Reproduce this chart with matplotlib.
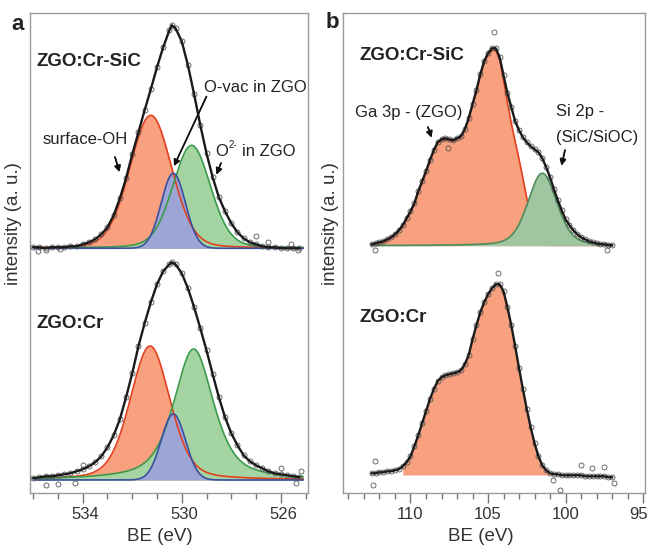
import numpy as np
import matplotlib.pyplot as plt
from matplotlib.transforms import ScaledTranslation

plt.rcParams['font.family'] = ['Liberation Sans', 'DejaVu Sans']

# binding energies of the sampled points (eV)
be_a = np.r_[np.arange(536.0, 530.4, -0.25), 530.4, np.arange(530.25, 525.0, -0.25)]
be_b = np.arange(112.5, 96.9, -0.25)

# --- panel a : O 1s (offset spectra, arbitrary units) ---
o1s_sic = [246, 246, 245, 246, 246, 246, 247, 247, 249, 251,
           254, 259, 266, 278, 295, 315, 339, 361, 383, 404,
           426, 446, 463, 468, 465, 452, 428, 399, 368, 340,
           316, 296, 282, 270, 261, 255, 251, 249, 247, 246,
           246, 245, 245, 245, 245]
o1s_cr = [15, 16, 17, 17, 18, 19, 20, 22, 24, 27,
          31, 37, 46, 58, 74, 96, 120, 147, 170, 191,
          209, 222, 229, 231, 229, 220, 205, 186, 165, 143,
          119, 96, 76, 60, 48, 38, 32, 28, 25, 22,
          20, 19, 18, 17, 16]
base_a = [245, 13.3]

# fit components: centre (eV), height, FWHM (eV), lorentzian fraction
oh_peak = [(531.25, 133, 2.0, 0.15), (531.28, 134, 1.9, 0.3)]
ovac_peak = [(530.34, 75, 1.15, 0.0), (530.34, 66, 1.15, 0.0)]
o2_peak = [(529.60, 103, 1.8, 0.2), (529.52, 131, 1.9, 0.6)]

# stray measured points away from the curve
stray_a_sic = ([535.8, 535.5, 534.9, 527.0, 526.5, 525.6, 525.3],
               [242, 243, 244, 257, 251, 249, 243])
stray_a_cr = ([535.5, 535.0, 534.3, 534.0, 526.0, 525.4, 525.2],
              [8, 9, 10, 28, 25, 10, 22])

# --- panel b : Ga 3p / Si 2p ---
ga_sic = [249, 250, 251, 252, 254, 256, 259, 263, 268, 275,
          282, 290, 302, 312, 322, 333, 343, 351, 354, 355,
          354, 353, 355, 357, 364, 375, 389, 403, 419, 432,
          440, 445, 445, 436, 418, 400, 386, 372, 363, 356,
          351, 347, 344, 341, 335, 326, 316, 304, 293, 283,
          274, 268, 263, 259, 256, 254, 252, 251, 250, 249,
          249, 248, 248]
ga3p_sic = [248, 249, 250, 251, 253, 255, 258, 262, 267, 274,
            281, 289, 301, 311, 321, 332, 342, 350, 353, 354,
            353, 352, 354, 356, 363, 374, 388, 402, 418, 431,
            439, 443, 443, 434, 413, 391, 370, 352, 334, 315,
            295, 277, 263, 254, 250, 248, 248, 248, 248, 248,
            248, 248, 248, 248, 248, 248, 248, 248, 248, 248,
            248, 248, 248]
ga_cr = [20, 20, 21, 21, 22, 22, 23, 24, 27, 31,
         37, 47, 58, 70, 82, 94, 104, 112, 116, 118,
         119, 120, 121, 123, 129, 138, 154, 168, 181, 191,
         199, 205, 209, 209, 202, 186, 168, 147, 125, 104,
         84, 66, 50, 37, 28, 23, 20, 19, 19, 18,
         18, 18, 18, 18, 18, 17, 17, 17, 17, 17,
         17, 16, 16]
base_b = [247.6, 18.3]
si2p_peak = (101.5, 72.5, 2.2, 0.3)

stray_b_sic = ([104.6, 107.6, 112.3, 97.3], [461, 345, 243, 243])
stray_b_cr = ([112.4, 112.3, 100.35, 100.8, 99.0, 98.3, 97.5, 96.9, 104.35],
              [8, 32, 3, 13, 28, 25, 26, 10, 220])

ORANGE, RED = '#f9a07f', '#e2401f'
GREEN, DKGREEN = '#a3d4a1', '#3c9a4c'
BLUE, DKBLUE = '#9da5d6', '#3a4f9e'
GREEN_B, DKGREEN_B = '#9fc6a0', '#4a8c5a'


def pvoigt(x, c, h, w, m):
    g = np.exp(-4 * np.log(2) * (x - c) ** 2 / w ** 2)
    lor = 1 / (1 + 4 * (x - c) ** 2 / w ** 2)
    return h * ((1 - m) * g + m * lor)


def style(ax, xlim, major, minor):
    ax.set_xlim(*xlim)
    ax.set_ylim(0, 480)
    ax.set_xticks(major)
    ax.set_xticks(minor, minor=True)
    ax.set_yticks([])
    for sp in ax.spines.values():
        sp.set_color('#9a9a9a')
        sp.set_linewidth(1.0)
    ax.tick_params(axis='x', which='major', direction='out', length=7, width=1,
                   color='#777777', labelsize=12, labelcolor='#333333', pad=3)
    ax.tick_params(axis='x', which='minor', direction='out', length=4, width=1,
                   color='#777777')


def dots(ax, x, y):
    ax.plot(x, y, 'o', ms=3.6, mfc='none', mec='#555555', mew=0.6, zorder=5)


fig = plt.figure(figsize=(6.47, 5.45), dpi=100)
ax_a = fig.add_axes([30 / 647, 51.7 / 545, 277.5 / 647, 480 / 545])
ax_b = fig.add_axes([342.7 / 647, 51.7 / 545, 302.3 / 647, 480 / 545])

# panel a
xa = np.linspace(535.95, 525.1, 800)
for k, data in enumerate([o1s_sic, o1s_cr]):
    b0 = base_a[k]
    for peak, fc, lc in [(oh_peak[k], ORANGE, RED), (o2_peak[k], GREEN, DKGREEN),
                         (ovac_peak[k], BLUE, DKBLUE)]:
        y = b0 + pvoigt(xa, *peak)
        ax_a.fill_between(xa, b0, y, color=fc, lw=0, zorder=1)
        ax_a.plot(xa, y, color=lc, lw=1.2, zorder=2)
    dots(ax_a, be_a, data)
    ax_a.plot(be_a, data, color='#1a1a1a', lw=1.7, zorder=6)
dots(ax_a, *stray_a_sic)
dots(ax_a, *stray_a_cr)
style(ax_a, (536.13, 524.92), [534, 530, 526], np.arange(525, 537))

# panel b
xb = np.linspace(112.45, 97.1, 800)
ax_b.fill_between(be_b, base_b[0], ga3p_sic, color=ORANGE, lw=0, zorder=1)
ax_b.plot(be_b, ga3p_sic, color=RED, lw=1.2, zorder=2)
y_si = base_b[0] + pvoigt(xb, *si2p_peak)
ax_b.fill_between(xb, base_b[0], y_si, color=GREEN_B, lw=0, zorder=3)
ax_b.plot(xb, y_si, color=DKGREEN_B, lw=1.2, zorder=4)
dots(ax_b, be_b, ga_sic)
ax_b.plot(be_b, ga_sic, color='#1a1a1a', lw=1.7, zorder=6)

inside = (be_b <= 110.5) & (be_b >= 101.0)
ax_b.fill_between(be_b, base_b[1], ga_cr, where=inside, color=ORANGE, lw=0, zorder=1)
dots(ax_b, be_b, ga_cr)
ax_b.plot(be_b, ga_cr, color='#1a1a1a', lw=1.7, zorder=6)
dots(ax_b, *stray_b_sic)
dots(ax_b, *stray_b_cr)
style(ax_b, (114.37, 94.88), [110, 105, 100, 95], np.arange(95, 115))

# nudge tick labels the way the reference sits them
for lbl in ax_a.get_xticklabels():
    lbl.set_transform(lbl.get_transform() + ScaledTranslation(0.03, 0, fig.dpi_scale_trans))
last = ax_b.get_xticklabels()[-1]
last.set_transform(last.get_transform() + ScaledTranslation(-0.05, 0, fig.dpi_scale_trans))

# axis labels
for ax, xc, yx in [(ax_a, 0.4667, -0.0577), (ax_b, 0.4581, -0.042)]:
    ax.set_xlabel('BE (eV)', fontsize=13.5, color='#333333', va='center')
    ax.xaxis.set_label_coords(xc, -0.0904)
    ax.set_ylabel('intensity (a. u.)', fontsize=13.5, color='#333333',
                  va='center', ha='center')
    ax.yaxis.set_label_coords(yx, 0.561)


def ftext(px, py, s, **kw):
    fig.text(px / 647, 1 - py / 545, s, va='center', color='#222222', **kw)


def farrow(tail, tip):
    fig.add_artist(plt.annotate(
        '', xy=(tip[0] / 647, 1 - tip[1] / 545), xycoords='figure fraction',
        xytext=(tail[0] / 647, 1 - tail[1] / 545), textcoords='figure fraction',
        arrowprops=dict(arrowstyle='-|>', color='#111111', lw=1.1,
                        mutation_scale=9, shrinkA=0, shrinkB=0)))


ftext(18, 24, 'a', fontsize=16, fontweight='bold', ha='center')
ftext(332, 23, 'b', fontsize=16, fontweight='bold', ha='center')

ftext(36.5, 61, 'ZGO:Cr-SiC', fontsize=13.5, fontweight='bold')
ftext(36.5, 323, 'ZGO:Cr', fontsize=13.5, fontweight='bold')
ftext(85, 140, 'surface-OH', fontsize=12, ha='center')
ftext(203.5, 87, 'O-vac in ZGO', fontsize=12)
ftext(215, 151, 'O', fontsize=12)
ftext(229, 144.5, '2-', fontsize=7)
ftext(242, 151, 'in ZGO', fontsize=12)

ftext(360, 55, 'ZGO:Cr-SiC', fontsize=13.5, fontweight='bold')
ftext(360, 318, 'ZGO:Cr', fontsize=13.5, fontweight='bold')
ftext(355, 112, 'Ga 3p - (ZGO)', fontsize=12)
ftext(556, 111, 'Si 2p -', fontsize=12)
ftext(556, 137.5, '(SiC/SiOC)', fontsize=12)

farrow((115, 157), (119.5, 172))
farrow((206.5, 96.5), (174, 166))
farrow((221, 163), (216.5, 174.5))
farrow((428, 127), (431.5, 137.5))
farrow((565, 150), (561.5, 165.5))

fig.savefig('out.png', dpi=100)
